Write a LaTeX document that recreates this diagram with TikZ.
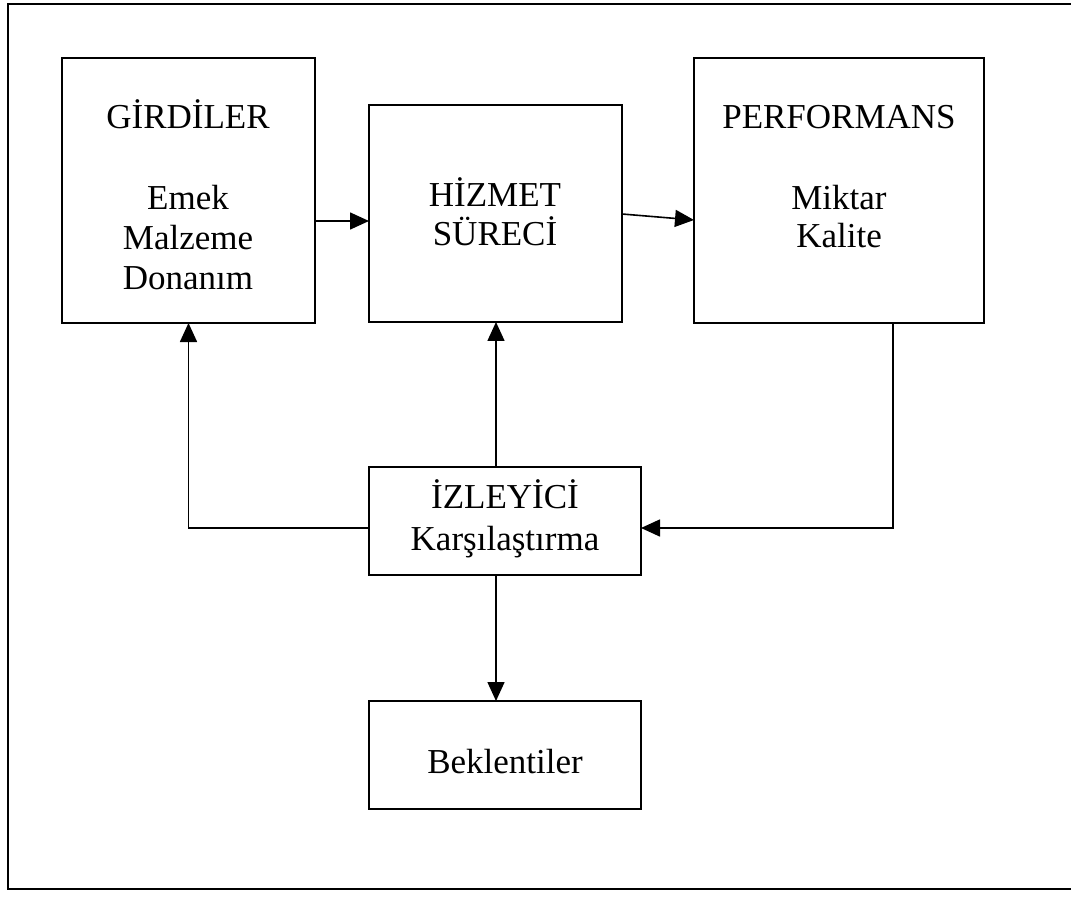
\documentclass[tikz,border=0pt]{standalone}
\usepackage{fontspec}
\setmainfont{Liberation Serif}
\usetikzlibrary{arrows.meta}
\begin{document}
\begin{tikzpicture}[x=1pt,y=-1pt,
  box/.style={draw,line width=2pt,inner sep=0pt,outer sep=0pt,anchor=north west},
  txt/.style={font=\fontsize{35}{40}\selectfont,anchor=base,inner sep=0pt},
  conn/.style={line width=1.6pt},
  arr/.style={conn,-{Triangle[length=19pt,width=17pt]}}]
\useasboundingbox (0,0) rectangle (1071,901);
\draw[line width=2.4pt] (1080,4) -- (8,4) -- (8,889) -- (1080,889);
% boxes
\node[box,minimum width=253pt,minimum height=265pt] (gir) at (62,58) {};
\node[box,minimum width=253pt,minimum height=217pt] (hiz) at (369,105) {};
\node[box,minimum width=290pt,minimum height=265pt] (perf) at (694,58) {};
\node[box,minimum width=272pt,minimum height=108pt] (izl) at (369,467) {};
\node[box,minimum width=272pt,minimum height=108pt] (bek) at (369,701) {};
% texts
\node[txt] (t1) at (188,129) {GİRDİLER};
\node[txt] (t2) at (188,210) {Emek};
\node[txt] (t3) at (188,250) {Malzeme};
\node[txt] (t4) at (188,290) {Donanım};
\node[txt] (t5) at (495,207) {HİZMET};
\node[txt] (t6) at (495,246) {SÜRECİ};
\node[txt] (t7) at (839,129) {PERFORMANS};
\node[txt] (t8) at (839,210) {Miktar};
\node[txt] (t9) at (839,248) {Kalite};
\node[txt] (t10) at (505,508) {İZLEYİCİ};
\node[txt] (t11) at (505,550) {Karşılaştırma};
\node[txt] (t12) at (505,773) {Beklentiler};
% helper coordinates
\coordinate (y1) at (0,221);
\coordinate (y2a) at (0,214);
\coordinate (y2b) at (0,220);
\coordinate (yf) at (0,528);
\coordinate (xv) at (893,0);
\coordinate (xm) at (496,0);
% connectors
\draw[arr] (gir.east |- y1) -- (hiz.west |- y1);
\draw[arr] (hiz.east |- y2a) -- (perf.west |- y2b);
\draw[arr] (izl.west |- yf) -| (gir.south);
\draw[arr] (xm |- izl.north) -- (xm |- hiz.south);
\draw[arr] (xv |- perf.south) |- (izl.east |- yf);
\draw[arr] (xm |- izl.south) -- (xm |- bek.north);
\end{tikzpicture}
\end{document}
